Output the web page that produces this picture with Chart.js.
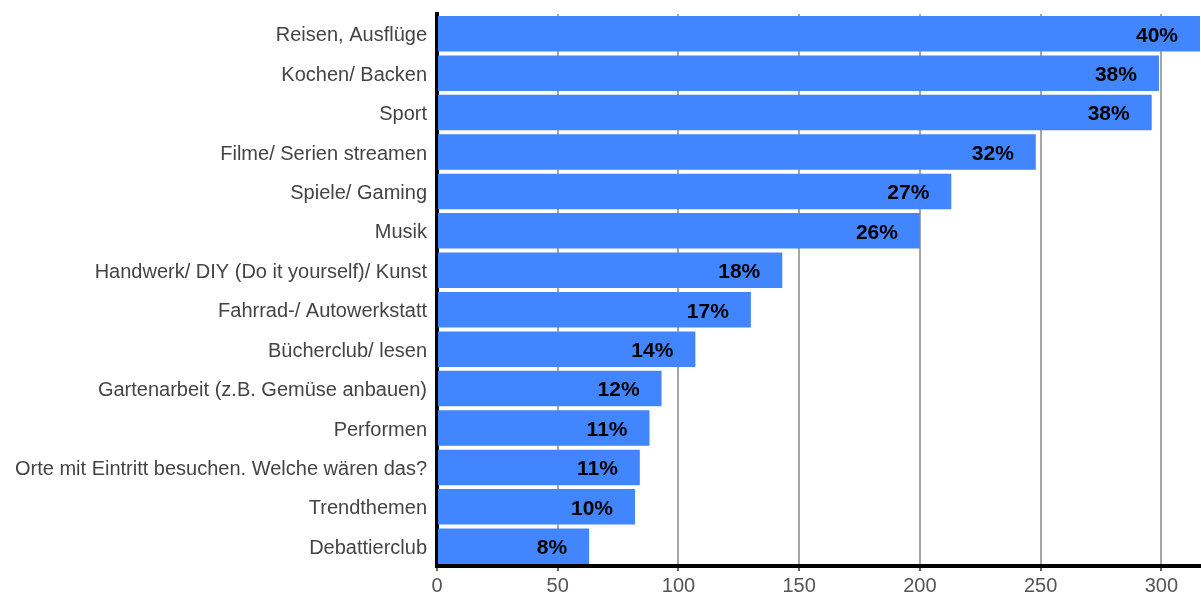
<!DOCTYPE html>
<html>
<head>
<meta charset="utf-8">
<script src="https://cdn.jsdelivr.net/npm/chart.js@4"></script>
<style>
  html, body { margin: 0; padding: 0; background: #fff; }
  #wrap { width: 1201px; height: 592px; }
</style>
</head>
<body>
<div id="wrap"><canvas id="chart" width="1201" height="592"></canvas></div>
<script>
// ==== Data ====
const categories = [
  "Reisen, Ausflüge",
  "Kochen/ Backen",
  "Sport",
  "Filme/ Serien streamen",
  "Spiele/ Gaming",
  "Musik",
  "Handwerk/ DIY (Do it yourself)/ Kunst",
  "Fahrrad-/ Autowerkstatt",
  "Bücherclub/ lesen",
  "Gartenarbeit (z.B. Gemüse anbauen)",
  "Performen",
  "Orte mit Eintritt besuchen. Welche wären das?",
  "Trendthemen",
  "Debattierclub"
];
const counts = [316, 299, 296, 248, 213, 200, 143, 130, 107, 93, 88, 84, 82, 63];
const percentLabels = ["40%", "38%", "38%", "32%", "27%", "26%", "18%", "17%", "14%", "12%", "11%", "11%", "10%", "8%"];
const xTicks = [0, 50, 100, 150, 200, 250, 300];

const FONT = "'Liberation Sans', Arial, sans-serif";

// ==== Value labels inside bars ====
const barLabels = {
  id: "barLabels",
  afterDatasetsDraw(chart) {
    const ctx = chart.ctx;
    const meta = chart.getDatasetMeta(0);
    ctx.save();
    ctx.font = "bold 21px " + FONT;
    ctx.fillStyle = "#000";
    ctx.textAlign = "right";
    ctx.textBaseline = "middle";
    meta.data.forEach((bar, i) => {
      ctx.fillText(percentLabels[i], bar.x - 22, bar.y + 2);
    });
    ctx.restore();
  }
};

const ctx = document.getElementById("chart").getContext("2d");
new Chart(ctx, {
  type: "bar",
  data: {
    labels: categories,
    datasets: [{
      data: counts,
      backgroundColor: "#4286ff",
      borderWidth: 0,
      barPercentage: 0.9,
      categoryPercentage: 1.0
    }]
  },
  options: {
    indexAxis: "y",
    responsive: false,
    animation: false,
    layout: { padding: { top: 14, right: 1, left: 0, bottom: 0 } },
    plugins: {
      legend: { display: false },
      tooltip: { enabled: false }
    },
    scales: {
      x: {
        min: 0,
        max: Math.max(...counts),
        afterBuildTicks(scale) {
          scale.ticks = xTicks.map(v => ({ value: v }));
        },
        afterFit(scale) {
          scale.height = 26;
          scale.paddingLeft = 0;
          scale.paddingRight = 0;
        },
        ticks: {
          color: "#555",
          font: { size: 20, family: FONT },
          padding: 3
        },
        grid: { color: "#a6a6a6", lineWidth: 2, tickLength: 5, tickColor: "#666" },
        border: { color: "#000", width: 4 }
      },
      y: {
        afterFit(scale) {
          scale.width = 437;
          scale.paddingTop = 0;
          scale.paddingBottom = 0;
        },
        ticks: {
          color: "#444",
          font: { size: 20, family: FONT },
          padding: 2,
          labelOffset: 2
        },
        grid: { display: false },
        border: { color: "#000", width: 4 }
      }
    }
  },
  plugins: [barLabels]
});
</script>
</body>
</html>
